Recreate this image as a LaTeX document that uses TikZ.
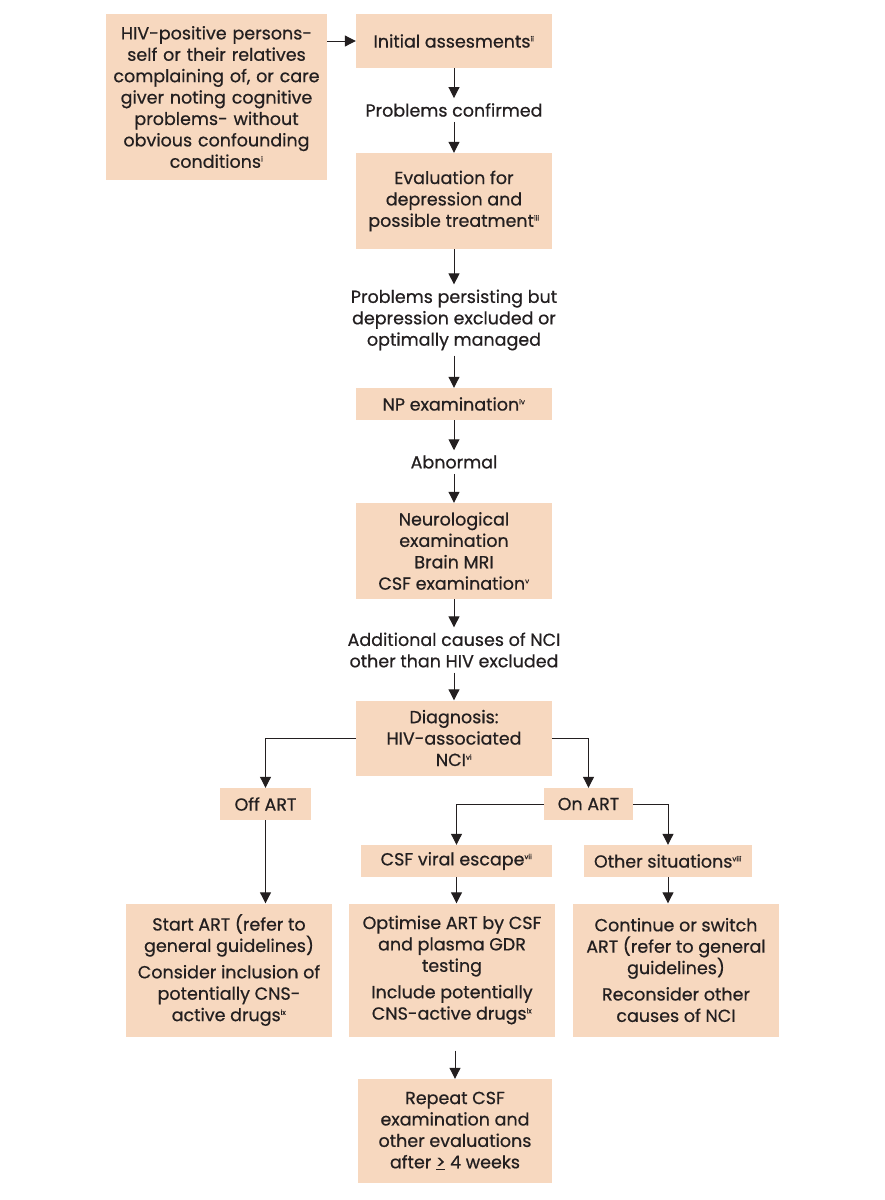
\documentclass[tikz,border=0pt]{standalone}
\usepackage{fontspec}
\setmainfont{Poppins}[FakeBold=0.6]
\usetikzlibrary{arrows.meta}
\definecolor{peach}{RGB}{247,216,191}
\definecolor{ink}{RGB}{35,31,32}
\newcommand\fnote[1]{\textsuperscript{\fontsize{7}{7}\selectfont #1}}
\tikzstyle{peach box}=[fill=peach, text=ink, inner sep=0pt, align=center]
\tikzstyle{note}=[text=ink, inner sep=5pt, align=center]
\tikzstyle{flow}=[draw=ink, line width=1pt, -{Triangle[width=11pt,length=11pt]}]

\begin{document}
\begin{tikzpicture}[x=1pt,y=-1pt,font=\fontsize{17.5}{21.4}\selectfont]
    \useasboundingbox (0,0) rectangle (884,1200);

    % Main column
    \draw (216.5,97) node[peach box, minimum width=221pt, minimum height=166pt, text width=219pt] (who)
    {HIV-positive persons-\\self or their relatives\\complaining of, or care\\giver noting cognitive\\problems- without\\obvious confounding\\conditions\fnote{i}};
    \draw (454,41) node[peach box, minimum width=196pt, minimum height=54pt] (init) {Initial assesments\fnote{ii}};
    \draw (454,110) node[note] (confirmed) {Problems confirmed};
    \draw (454,201) node[peach box, minimum width=196pt, minimum height=96pt] (eval)
    {Evaluation for\\depression and\\possible treatment\fnote{iii}};
    \draw (454,320) node[note] (persist) {Problems persisting but\\depression excluded or\\optimally managed};
    \draw (454,404) node[peach box, minimum width=196pt, minimum height=32pt] (np) {NP examination\fnote{iv}};
    \draw (454,462) node[note] (abnormal) {Abnormal};
    \draw (454,551) node[peach box, minimum width=196pt, minimum height=96pt] (neuro)
    {Neurological\\examination\\Brain MRI\\CSF examination\fnote{v}};
    \draw (454,650) node[note] (causes) {Additional causes of NCI\\other than HIV excluded};
    \draw (454,738) node[peach box, minimum width=196pt, minimum height=75pt] (diag)
    {Diagnosis:\\HIV-associated\\NCI\fnote{vi}};

    % Branches
    \draw (265.5,804) node[peach box, minimum width=91pt, minimum height=32pt] (off) {Off ART};
    \draw (588.5,804) node[peach box, minimum width=89pt, minimum height=32pt] (on) {On ART};
    \draw (456.5,861) node[peach box, minimum width=191pt, minimum height=32pt] (escape) {CSF viral escape\fnote{vii}};
    \draw (668,861) node[peach box, minimum width=168pt, minimum height=32pt] (other) {Other situations\fnote{viii}};

    % Actions
    \draw (229,970) node[peach box, minimum width=206pt, minimum height=133pt] (start)
    {Start ART (refer to\\general guidelines)\\[5pt]Consider inclusion of\\potentially CNS-\\active drugs\fnote{ix}};
    \draw (452,970) node[peach box, minimum width=206pt, minimum height=133pt] (optim)
    {Optimise ART by CSF\\and plasma GDR\\testing\\[5pt]Include potentially\\CNS-active drugs\fnote{ix}};
    \draw (676,970) node[peach box, minimum width=206pt, minimum height=133pt] (cont)
    {Continue or switch\\ART (refer to general\\guidelines)\\[5pt]Reconsider other\\causes of NCI};
    \draw (455,1131) node[peach box, minimum width=194pt, minimum height=104pt] (repeat)
    {Repeat CSF\\examination and\\other evaluations\\after \underline{>} 4 weeks};

    % Connectors
    \draw[flow] (who.east |- init.west) -- (init.west);
    \draw[flow] (init) -- (confirmed);
    \draw[flow] (confirmed) -- (eval);
    \draw[flow] (eval) -- (persist);
    \draw[flow] (persist) -- (np);
    \draw[flow] (np) -- (abnormal);
    \draw[flow] (abnormal) -- (neuro);
    \draw[flow] (neuro) -- (causes);
    \draw[flow] (causes) -- (diag);
    \draw[flow] (diag.west) -| (off.north);
    \draw[flow] (diag.east) -| (on.north);
    \draw[flow] (on.west) -| (escape.north);
    \draw[flow] (on.east) -| (other.north);
    \draw[flow] (off.south) -- (off.south |- start.north);
    \draw[flow] (escape.south) -- (escape.south |- optim.north);
    \draw[flow] (other.south) -- (other.south |- cont.north);
    \draw[flow, shorten <=14pt] (optim.south -| repeat.north) -- (repeat.north);

\end{tikzpicture}
\end{document}
